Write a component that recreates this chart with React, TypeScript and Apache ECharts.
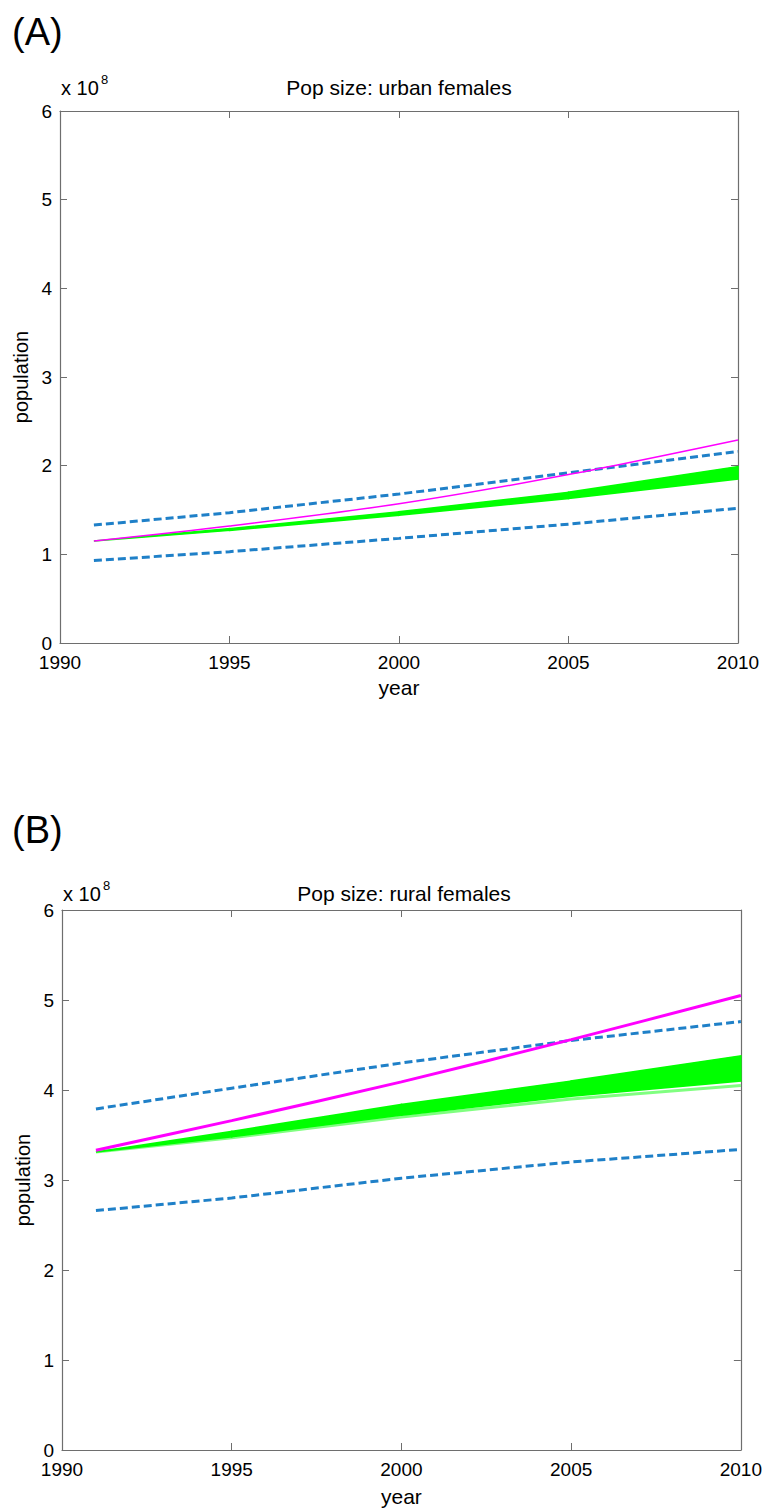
import React, { useEffect, useRef } from "react";
import * as echarts from "echarts";

// ---- data (population, units of 1e8) ----
const years = [1991, 1995, 2000, 2005, 2010];
const xTicks = [1990, 1995, 2000, 2005, 2010];

// (A) urban females
const urbanModel = [1.15, 1.32, 1.57, 1.9, 2.29];
const urbanUpper = [1.33, 1.47, 1.68, 1.92, 2.16];
const urbanLower = [0.93, 1.03, 1.18, 1.34, 1.52];
const urbanSimLow = [1.15, 1.27, 1.44, 1.63, 1.85];
const urbanSimHigh = [1.15, 1.29, 1.48, 1.7, 1.99];

// (B) rural females
const ruralModel = [3.33, 3.66, 4.09, 4.56, 5.05];
const ruralUpper = [3.79, 4.02, 4.3, 4.55, 4.76];
const ruralLower = [2.66, 2.8, 3.02, 3.2, 3.34];
const ruralSimLow = [3.31, 3.48, 3.72, 3.93, 4.1];
const ruralSimHigh = [3.31, 3.54, 3.84, 4.1, 4.38];
const ruralSimFringe = [3.31, 3.47, 3.7, 3.9, 4.05];

const FONT = "Liberation Sans";
const AXIS_COLOR = "#6e6e6e";
const BLUE = "#1f80c8";
const GREEN = "#00ff00";
const LIGHT_GREEN = "#80ff80";
const MAGENTA = "#ff00ff";

const pairs = (xs: number[], ys: number[]) => xs.map((x, i) => [x, ys[i]]);

function xAxisDef(grid: number, pos: "bottom" | "top", nameGap: number) {
  const main = pos === "bottom";
  return {
    type: "value",
    gridIndex: grid,
    position: pos,
    min: 1990,
    max: 2010,
    interval: 5,
    name: main ? "year" : "",
    nameLocation: "middle",
    nameGap,
    nameTextStyle: { fontFamily: FONT, fontSize: 21, color: "#000" },
    axisLine: { show: true, onZero: false, lineStyle: { color: AXIS_COLOR, width: 1.2 } },
    axisTick: { show: true, inside: true, length: 7, lineStyle: { color: AXIS_COLOR } },
    axisLabel: {
      show: main,
      margin: 10,
      fontFamily: FONT,
      fontSize: 19,
      lineHeight: 19,
      color: "#000",
      showMinLabel: true,
      showMaxLabel: true,
      formatter: (v: number) => (xTicks.includes(v) ? String(v) : ""),
    },
    splitLine: { show: false },
  };
}

function yAxisDef(grid: number, pos: "left" | "right") {
  const main = pos === "left";
  return {
    type: "value",
    gridIndex: grid,
    position: pos,
    min: 0,
    max: 6,
    interval: 1,
    name: main ? "population" : "",
    nameLocation: "middle",
    nameGap: 22,
    nameTextStyle: { fontFamily: FONT, fontSize: 20, color: "#000" },
    axisLine: { show: true, onZero: false, lineStyle: { color: AXIS_COLOR, width: 1.2 } },
    axisTick: { show: true, inside: true, length: 7, lineStyle: { color: AXIS_COLOR } },
    axisLabel: {
      show: main,
      margin: 8,
      fontFamily: FONT,
      fontSize: 19,
      lineHeight: 16,
      color: "#000",
    },
    splitLine: { show: false },
  };
}

function bandSeries(xi: number, yi: number, low: number[], high: number[]) {
  return {
    type: "custom",
    xAxisIndex: xi,
    yAxisIndex: yi,
    silent: true,
    z: 2,
    data: years.map((y, i) => [y, low[i], high[i]]),
    encode: { x: 0, y: [1, 2] },
    renderItem: (params: any, api: any) => {
      const i = params.dataIndex;
      if (i >= years.length - 1) return null;
      const pts = [
        api.coord([years[i], low[i]]),
        api.coord([years[i + 1], low[i + 1]]),
        api.coord([years[i + 1], high[i + 1]]),
        api.coord([years[i], high[i]]),
      ];
      return {
        type: "polygon",
        shape: { points: pts },
        style: { fill: GREEN, stroke: GREEN, lineWidth: 1.5 },
      };
    },
  };
}

function panelSeries(
  xi: number,
  yi: number,
  model: number[],
  upper: number[],
  lower: number[],
  simLow: number[],
  simHigh: number[],
  modelWidth: number,
  fringe?: number[]
) {
  const base = { type: "line", xAxisIndex: xi, yAxisIndex: yi, symbol: "none", silent: true };
  const list: any[] = [];
  if (fringe) {
    list.push({
      ...base,
      name: "sim-fringe",
      data: pairs(years, fringe),
      lineStyle: { color: LIGHT_GREEN, width: 3 },
      z: 1,
    });
  }
  list.push(bandSeries(xi, yi, simLow, simHigh));
  list.push(
    {
      ...base,
      name: "upper",
      data: pairs(years, upper),
      lineStyle: { color: BLUE, width: 3, type: [8, 4] },
      z: 3,
    },
    {
      ...base,
      name: "lower",
      data: pairs(years, lower),
      lineStyle: { color: BLUE, width: 3, type: [8, 4] },
      z: 3,
    },
    {
      ...base,
      name: "model",
      data: pairs(years, model),
      smooth: 0.3,
      lineStyle: { color: MAGENTA, width: modelWidth },
      z: 4,
    }
  );
  return list;
}

function textEl(text: string, x: number, y: number, size: number, align = "left") {
  return {
    type: "text",
    x,
    y,
    silent: true,
    style: {
      text,
      fontFamily: FONT,
      fontSize: size,
      fill: "#000",
      textAlign: align,
      textVerticalAlign: "middle",
    },
  };
}

export default function App() {
  const ref = useRef<HTMLDivElement>(null);

  useEffect(() => {
    document.body.style.margin = "0";
    if (!ref.current) return;
    const chart = echarts.init(ref.current, null, { renderer: "svg" });
    chart.setOption({
      animation: false,
      backgroundColor: "#fff",
      grid: [
        { left: 60, top: 111, width: 678, height: 532 },
        { left: 62, top: 910, width: 685, height: 540 },
      ],
      xAxis: [
        xAxisDef(0, "bottom", 34),
        xAxisDef(0, "top", 0),
        xAxisDef(1, "bottom", 36),
        xAxisDef(1, "top", 0),
      ],
      yAxis: [yAxisDef(0, "left"), yAxisDef(0, "right"), yAxisDef(1, "left"), yAxisDef(1, "right")],
      series: [
        ...panelSeries(0, 0, urbanModel, urbanUpper, urbanLower, urbanSimLow, urbanSimHigh, 1.5),
        ...panelSeries(2, 2, ruralModel, ruralUpper, ruralLower, ruralSimLow, ruralSimHigh, 3, ruralSimFringe),
      ],
      graphic: [
        textEl("(A)", 12, 32, 38),
        textEl("Pop size: urban females", 399, 87, 21, "center"),
        textEl("x 10", 61, 88, 20),
        textEl("8", 101, 79, 13),
        textEl("(B)", 12, 830, 38),
        textEl("Pop size: rural females", 404, 893, 21, "center"),
        textEl("x 10", 63, 894, 20),
        textEl("8", 103, 885, 13),
      ],
    });
    return () => chart.dispose();
  }, []);

  return <div ref={ref} style={{ width: 765, height: 1511 }} />;
}
